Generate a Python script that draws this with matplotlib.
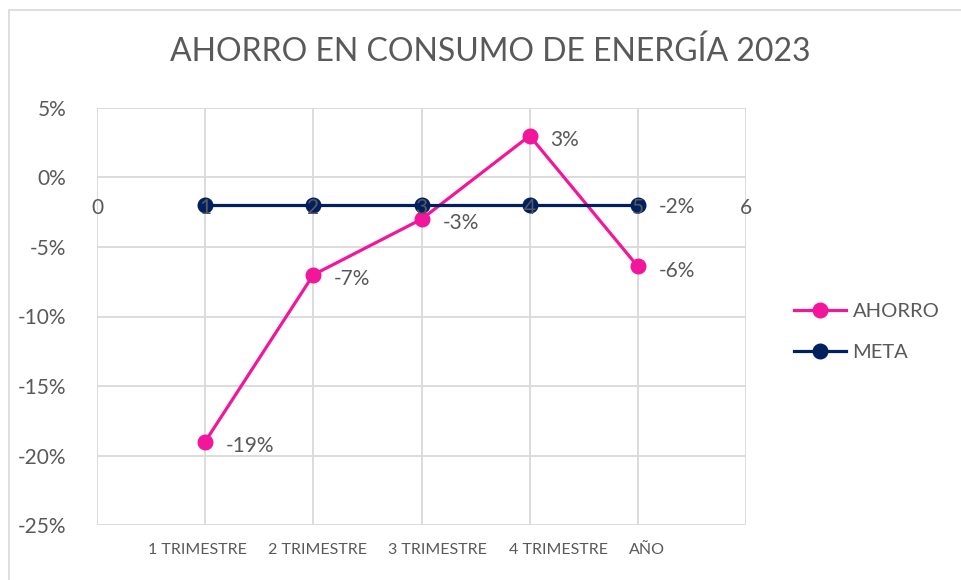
import numpy as np
import matplotlib
matplotlib.use("Agg")
import matplotlib.pyplot as plt
from matplotlib.patches import Rectangle
from matplotlib.transforms import blended_transform_factory

# datos
categorias = ["1 TRIMESTRE", "2 TRIMESTRE", "3 TRIMESTRE", "4 TRIMESTRE", "AÑO"]
posiciones = [1, 2, 3, 4, 5]
ahorro = [-0.19, -0.07, -0.03, 0.03, -0.064]
meta = [-0.02, -0.02, -0.02, -0.02, -0.02]
etiquetas_ahorro = ["-19%", "-7%", "-3%", "3%", "-6%"]
etiqueta_meta = "-2%"
ejes_x = [0, 1, 2, 3, 4, 5, 6]
ticks_y = [0.05, 0.0, -0.05, -0.10, -0.15, -0.20, -0.25]

ROSA = "#F2169B"
AZUL = "#002060"
GRIS = "#595959"
REJILLA = "#D9D9D9"

plt.rcParams['font.family'] = ['Lato', 'DejaVu Sans']

fig = plt.figure(figsize=(9.61, 5.80), dpi=100)
fig.patches.append(Rectangle((9 / 961, -0.1), 1.2, 1 - 10 / 580 + 0.1,
                             transform=fig.transFigure, fill=False,
                             edgecolor=REJILLA, linewidth=1.2))

ax = fig.add_axes([97 / 961, 1 - 525 / 580, (746 - 97) / 961, (525 - 108) / 580])
ax.set_xlim(0, 6)
ax.set_ylim(-0.25, 0.05)

# rejilla
for v in ticks_y:
    ax.axhline(v, color=REJILLA, linewidth=1.3, zorder=0)
for x in ejes_x:
    ax.axvline(x, color=REJILLA, linewidth=1.3, zorder=0)
for s in ax.spines.values():
    s.set_visible(False)

ax.set_yticks(ticks_y)
ax.set_yticklabels([f"{int(round(v * 100))}%" for v in ticks_y])
ax.tick_params(axis='y', length=0, pad=22, labelsize=15, labelcolor=GRIS)
ax.set_xticks([])

# eje de categorias (separado, como en Excel)
trans = blended_transform_factory(ax.transData, ax.transAxes)
for i, c in enumerate(categorias):
    ax.text(0.47 + i * 1.112, -0.06, c, transform=trans, ha='left',
            va='center', fontsize=11.5, color=GRIS)

# series
ax.plot(posiciones, ahorro, '-o', color=ROSA, linewidth=2.3, markersize=10.5,
        label="AHORRO", zorder=3)
ax.plot(posiciones, meta, '-o', color=AZUL, linewidth=2.3, markersize=10.5,
        label="META", zorder=4)

# eje horizontal de valores en -2%
for x in ejes_x:
    ax.text(x, -0.0222, str(x), ha='center', va='center', fontsize=15,
            color=GRIS, zorder=5)

# etiquetas de datos
for x, y, t in zip(posiciones, ahorro, etiquetas_ahorro):
    ax.annotate(t, (x, y), xytext=(15, -3), textcoords='offset points',
                ha='left', va='center', fontsize=15, color=GRIS, zorder=6)
ax.annotate(etiqueta_meta, (posiciones[-1], meta[-1]), xytext=(15, -1),
            textcoords='offset points', ha='left', va='center', fontsize=15,
            color=GRIS, zorder=6)

fig.text(490 / 961, 1 - 52 / 580, "AHORRO EN CONSUMO DE ENERGÍA 2023",
         ha='center', va='center', fontsize=23, color=GRIS)

leg = fig.legend(loc='center left', bbox_to_anchor=(776 / 961, 1 - 332 / 580),
                 frameon=False, fontsize=14.5, labelcolor=GRIS, handlelength=2.6,
                 handletextpad=0.3, labelspacing=1.2)

fig.savefig("out.png", dpi=100)
